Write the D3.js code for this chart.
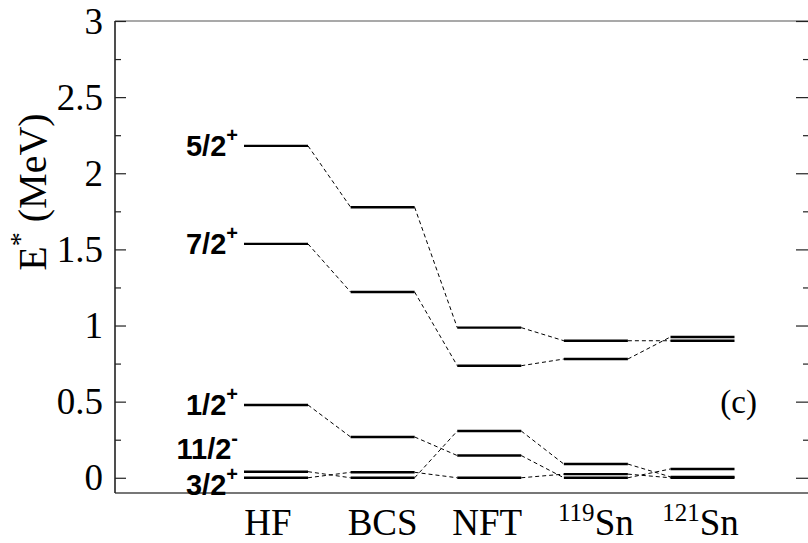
<!DOCTYPE html>
<html>
<head>
<meta charset="utf-8">
<script src="https://cdn.jsdelivr.net/npm/d3@7"></script>
<style>
  body { margin: 0; background: #fff; }
</style>
</head>
<body>
<div id="chart"></div>
<script>
// columns of the level scheme
var categories = ["HF", "BCS", "NFT", "119Sn", "121Sn"];
var catBase = ["HF", "BCS", "NFT", "Sn", "Sn"];
var catSup = ["", "", "", "119", "121"];

// level labels (spin / parity)
var levelNames = ["5/2", "7/2", "1/2", "11/2", "3/2"];
var levelParity = ["+", "+", "+", "-", "+"];

// excitation energies (MeV) for each level across the columns
var level52 = [2.18, 1.777, 0.986, 0.90, 0.90];
var level72 = [1.536, 1.22, 0.736, 0.78, 0.925];
var level12 = [0.478, 0.268, 0.146, 0.0, 0.058];
var level112 = [0.04, 0.0, 0.307, 0.09, 0.006];
var level32 = [0.0, 0.036, 0.0, 0.024, 0.0];

var yTicks = [0, 0.5, 1, 1.5, 2, 2.5, 3];
var yMinor = [0.25, 0.75, 1.25, 1.75, 2.25, 2.75];

var series = [level52, level72, level12, level112, level32];

// layout
var W = 808, H = 543;
var mLeft = 115, mRight = 809, mTop = 21, mBottom = 493;
var halfW = 32;
var labelDy = [0, 0, 0, -23, 7];
var catShift = [-8, 0, -2, 0, -2];
var serif = "Liberation Serif, Times New Roman, serif";

var svg = d3.select("#chart").append("svg")
  .attr("width", W)
  .attr("height", H);

var x = d3.scalePoint()
  .domain(categories)
  .range([276, 702.5]);

var y = d3.scaleLinear()
  .domain([-0.1, 3])
  .range([mBottom, mTop]);

// frame
svg.append("line")
  .attr("x1", mLeft).attr("x2", mRight)
  .attr("y1", mTop).attr("y2", mTop)
  .attr("stroke", "#555").attr("stroke-width", 1.2);
svg.append("line")
  .attr("x1", mLeft).attr("x2", mRight)
  .attr("y1", mBottom).attr("y2", mBottom)
  .attr("stroke", "#777").attr("stroke-width", 2);

// left axis
var yAxis = svg.append("g")
  .attr("transform", "translate(" + mLeft + ",0)")
  .call(d3.axisRight(y).tickValues(yTicks).tickSize(11).tickFormat(""));
yAxis.select(".domain").remove();
yAxis.selectAll("line").attr("stroke", "#222").attr("stroke-width", 1.2);
svg.append("line")
  .attr("x1", mLeft).attr("x2", mLeft)
  .attr("y1", mTop).attr("y2", mBottom)
  .attr("stroke", "#222").attr("stroke-width", 1.6);

var yMin = svg.append("g")
  .attr("transform", "translate(" + mLeft + ",0)")
  .call(d3.axisRight(y).tickValues(yMinor).tickSize(6).tickFormat(""));
yMin.select(".domain").remove();
yMin.selectAll("line").attr("stroke", "#222").attr("stroke-width", 1.2);

svg.selectAll(".ytick")
  .data(yTicks)
  .enter().append("text")
    .attr("class", "ytick")
    .attr("x", 103)
    .attr("y", function(d) { return y(d); })
    .attr("dy", "0.34em")
    .attr("text-anchor", "end")
    .style("font-family", serif)
    .style("font-size", "37px")
    .text(function(d) { return d; });

// right axis (inward ticks)
var yR = svg.append("g")
  .attr("transform", "translate(" + mRight + ",0)")
  .call(d3.axisLeft(y).tickValues(yTicks).tickSize(13).tickFormat(""));
yR.select(".domain").remove();
yR.selectAll("line").attr("stroke", "#222").attr("stroke-width", 1.2);
var yRm = svg.append("g")
  .attr("transform", "translate(" + mRight + ",0)")
  .call(d3.axisLeft(y).tickValues(yMinor).tickSize(6).tickFormat(""));
yRm.select(".domain").remove();
yRm.selectAll("line").attr("stroke", "#222").attr("stroke-width", 1.2);

// y title
var yt = svg.append("text")
  .attr("transform", "translate(46,192) rotate(-90)")
  .attr("text-anchor", "middle")
  .style("font-family", serif)
  .style("font-size", "40px");
yt.append("tspan").text("E");
yt.append("tspan").attr("dy", "-17px").style("font-size", "28px").text("*");
yt.append("tspan").attr("dy", "17px").text(" (MeV)");

// x labels
categories.forEach(function(c, i) {
  var t = svg.append("text")
    .attr("x", x(c) + catShift[i])
    .attr("y", 535)
    .attr("text-anchor", "middle")
    .style("font-family", serif)
    .style("font-size", "37px");
  if (catSup[i]) {
    t.append("tspan").attr("dy", "-14px").style("font-size", "25px").text(catSup[i]);
    t.append("tspan").attr("dy", "14px").text(catBase[i]);
  } else {
    t.text(catBase[i]);
  }
});

// dashed connectors
series.forEach(function(s) {
  for (var i = 0; i < s.length - 1; i++) {
    svg.append("line")
      .attr("x1", x(categories[i]) + halfW)
      .attr("y1", y(s[i]))
      .attr("x2", x(categories[i + 1]) - halfW)
      .attr("y2", y(s[i + 1]))
      .attr("stroke", "#000")
      .attr("stroke-width", 1)
      .attr("stroke-dasharray", "4,3");
  }
});

// levels
series.forEach(function(s) {
  svg.append("g").selectAll("line")
    .data(s)
    .enter().append("line")
      .attr("x1", function(d, i) { return x(categories[i]) - halfW; })
      .attr("x2", function(d, i) { return x(categories[i]) + halfW; })
      .attr("y1", function(d) { return y(d); })
      .attr("y2", function(d) { return y(d); })
      .attr("stroke", "#000")
      .attr("stroke-width", 2.4);
});

// level labels
series.forEach(function(s, k) {
  var t = svg.append("text")
    .attr("x", 238)
    .attr("y", y(s[0]) + labelDy[k])
    .attr("dy", "0.36em")
    .attr("text-anchor", "end")
    .style("font-family", "Liberation Sans, Arial, sans-serif")
    .style("font-weight", "bold")
    .style("font-size", "29px");
  t.append("tspan").text(levelNames[k]);
  t.append("tspan").attr("dy", "-14px").style("font-size", "20px").text(levelParity[k]);
});

// panel label
svg.append("text")
  .attr("x", 757)
  .attr("y", y(0.5))
  .attr("dy", "0.33em")
  .attr("text-anchor", "end")
  .style("font-family", serif)
  .style("font-size", "33px")
  .text("(c)");
</script>
</body>
</html>
